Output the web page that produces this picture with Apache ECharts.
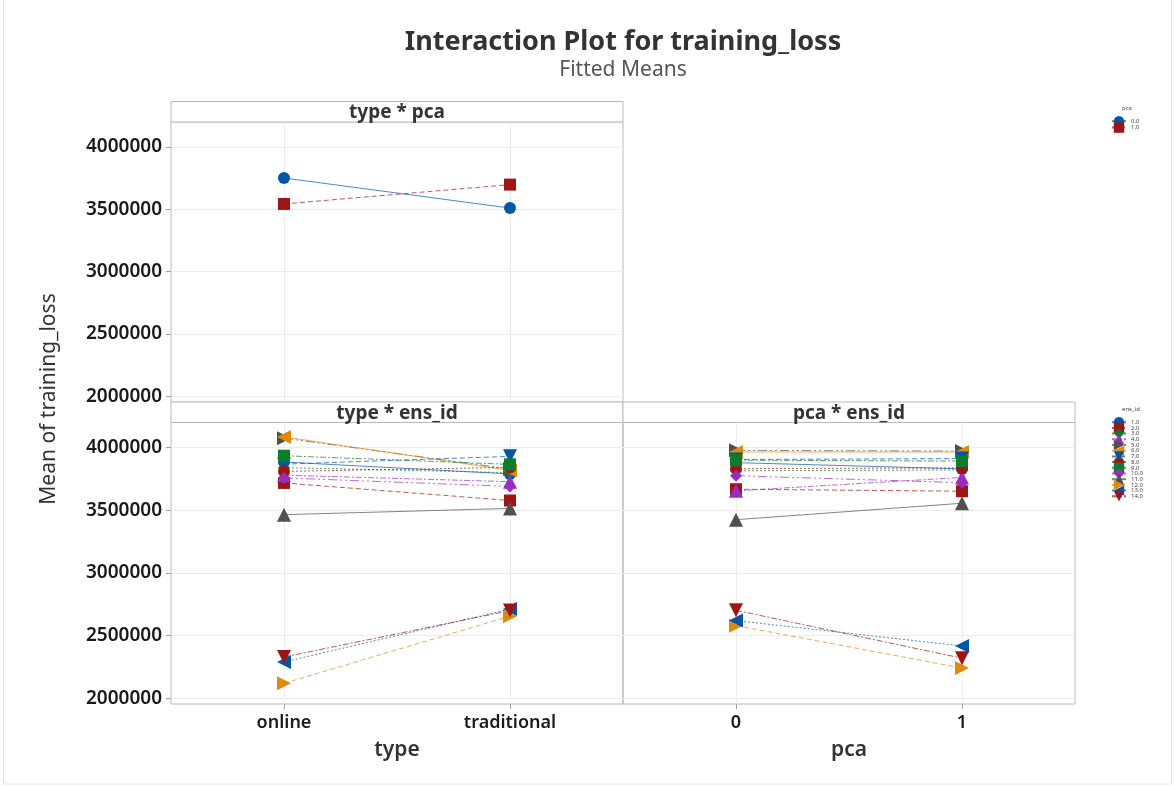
<!DOCTYPE html>
<html>
<head>
<meta charset="utf-8">
<title>Interaction Plot for training_loss</title>
<script src="https://cdn.jsdelivr.net/npm/echarts@6/dist/echarts.min.js"></script>
<style>
  html, body { margin: 0; padding: 0; background: #fff; }
  #chart { width: 1175px; height: 786px; }
</style>
</head>
<body>
<div id="chart"></div>
<script>
// factor levels
var typeLevels = ['online', 'traditional'];
var pcaLevels = ['0', '1'];
var pcaNames = ['0.0', '1.0'];
var ensNames = ['1.0', '2.0', '3.0', '4.0', '5.0', '6.0', '7.0',
                '8.0', '9.0', '10.0', '11.0', '12.0', '13.0', '14.0'];
var yTicks = [2000000, 2500000, 3000000, 3500000, 4000000];

// type * pca fitted means (one row per pca level, columns = type)
var typePcaZero = [3751000, 3510000];
var typePcaOne = [3543000, 3698000];

// type * ens_id fitted means
var typeEnsOnline = [3885000, 3718000, 3840000, 3780000, 4075000, 4085000, 3868000,
                     3810000, 3935000, 3758000, 3465000, 2120000, 2290000, 2330000];
var typeEnsTraditional = [3790000, 3578000, 3800000, 3728000, 3830000, 3818000, 3930000,
                          3842000, 3866000, 3690000, 3515000, 2655000, 2712000, 2700000];

// pca * ens_id fitted means
var pcaEnsZero = [3880000, 3668000, 3815000, 3655000, 3978000, 3965000, 3905000,
                  3832000, 3900000, 3776000, 3425000, 2580000, 2620000, 2702000];
var pcaEnsOne = [3830000, 3652000, 3822000, 3762000, 3972000, 3965000, 3912000,
                 3838000, 3892000, 3720000, 3556000, 2242000, 2418000, 2320000];

// minitab-like styling cycles
var palette = ['#0057a8', '#9c1616', '#0b7d2b', '#9b2dbe', '#505050', '#de8b0b'];
var symbols = ['circle', 'rect', 'diamond', 'triangle',
               'path://M0,0 L10,5 L0,10 Z',
               'path://M10,0 L0,5 L10,10 Z',
               'path://M0,0 L10,0 L5,10 Z'];
var dashes = ['solid', [5, 3], [2, 2], [6, 2, 2, 2], [9, 3, 2, 3, 2, 3]];

var FONT = 'Noto Sans';
var gridColor = '#ececec';
var borderColor = '#b9b9b9';

function styleFor(i) {
  var c = palette[i % palette.length];
  return {
    symbol: symbols[i % symbols.length],
    symbolSize: i % symbols.length >= 3 ? 14 : 12,
    itemStyle: { color: c, opacity: 1 },
    lineStyle: { color: c, width: 1, type: dashes[i % dashes.length], opacity: 0.7 },
    emphasis: { disabled: true }
  };
}

function vLines(levels) {
  return {
    silent: true, z: 1, symbol: 'none', animation: false,
    label: { show: false },
    lineStyle: { color: gridColor, type: 'solid', width: 1 },
    data: levels.map(function (c) { return { xAxis: c }; })
  };
}

function yAxisFor(idx, showLabels) {
  return {
    type: 'value', gridIndex: idx, min: 1955000, max: 4200000,
    axisLine: { show: false },
    axisTick: { show: showLabels, length: 5, customValues: yTicks, lineStyle: { color: '#a0a0a0' } },
    axisLabel: { show: showLabels, customValues: yTicks,
                 formatter: function (v) { return String(v); },
                 fontFamily: FONT, fontSize: 19, fontWeight: 600, color: '#1a1a1a', margin: 9 },
    splitLine: { show: true, lineStyle: { color: gridColor } }
  };
}

function xAxisFor(idx, levels, name, showLabels) {
  return {
    type: 'category', gridIndex: idx, data: levels, boundaryGap: true,
    axisLine: { show: false },
    axisTick: { show: showLabels, alignWithLabel: true, length: 5, lineStyle: { color: '#a0a0a0' } },
    axisLabel: { show: showLabels, fontFamily: FONT, fontSize: 18, fontWeight: 600, color: '#1a1a1a', margin: 10 },
    splitLine: { show: false },
    name: name, nameLocation: 'middle', nameGap: 36,
    nameTextStyle: { fontFamily: FONT, fontSize: 21, fontWeight: 600, color: '#333' }
  };
}

var series = [];
[typePcaZero, typePcaOne].forEach(function (vals, i) {
  var s = styleFor(i);
  s.name = 'pca ' + pcaNames[i];
  s.type = 'line';
  s.xAxisIndex = 0; s.yAxisIndex = 0;
  s.data = vals;
  if (i === 0) s.markLine = vLines(typeLevels);
  series.push(s);
});
ensNames.forEach(function (name, i) {
  var a = styleFor(i);
  a.name = name; a.type = 'line'; a.xAxisIndex = 1; a.yAxisIndex = 1;
  a.data = [typeEnsOnline[i], typeEnsTraditional[i]];
  if (i === 0) a.markLine = vLines(typeLevels);
  series.push(a);
  var b = styleFor(i);
  b.name = name; b.type = 'line'; b.xAxisIndex = 2; b.yAxisIndex = 2;
  b.data = [pcaEnsZero[i], pcaEnsOne[i]];
  if (i === 0) b.markLine = vLines(pcaLevels);
  series.push(b);
});

function header(x, y, w, h, text) {
  return [
    { type: 'rect', shape: { x: x, y: y, width: w, height: h },
      style: { fill: '#fff', stroke: borderColor, lineWidth: 1 } },
    { type: 'text', x: x + w / 2, y: y + h / 2 + 1,
      style: { text: text, font: 'bold 19px ' + FONT, fill: '#333', align: 'center', verticalAlign: 'middle' } }
  ];
}

var graphics = [
  { type: 'rect', shape: { x: 3.5, y: -2, width: 1168, height: 786 },
    style: { fill: 'none', stroke: '#e4e4e4', lineWidth: 1 }, silent: true },
  { type: 'text', x: 623, y: 42,
    style: { text: 'Interaction Plot for training_loss', font: 'bold 27px ' + FONT, fill: '#333',
             align: 'center', verticalAlign: 'middle' } },
  { type: 'text', x: 623, y: 70,
    style: { text: 'Fitted Means', font: '21px ' + FONT, fill: '#555', align: 'center', verticalAlign: 'middle' } },
  { type: 'text', x: 49, y: 399, rotation: Math.PI / 2,
    style: { text: 'Mean of training_loss', font: '21px ' + FONT, fill: '#333', align: 'center', verticalAlign: 'middle' } },
  { type: 'text', x: 1122, y: 108,
    style: { text: 'pca', font: '6px ' + FONT, fill: '#444', align: 'left', verticalAlign: 'middle' } },
  { type: 'text', x: 1122, y: 409,
    style: { text: 'ens_id', font: '6px ' + FONT, fill: '#444', align: 'left', verticalAlign: 'middle' } }
].concat(header(171, 101.5, 452, 20.5, 'type * pca'))
 .concat(header(171, 402, 452, 20.5, 'type * ens_id'))
 .concat(header(623, 402, 452, 20.5, 'pca * ens_id'));

var chart = echarts.init(document.getElementById('chart'));
chart.setOption({
  animation: false,
  backgroundColor: '#fff',
  grid: [
    { left: 171, top: 122, width: 452, height: 280, show: true, borderColor: borderColor, borderWidth: 1, backgroundColor: 'transparent' },
    { left: 171, top: 422.5, width: 452, height: 281.5, show: true, borderColor: borderColor, borderWidth: 1, backgroundColor: 'transparent' },
    { left: 623, top: 422.5, width: 452, height: 281.5, show: true, borderColor: borderColor, borderWidth: 1, backgroundColor: 'transparent' }
  ],
  xAxis: [
    xAxisFor(0, typeLevels, '', false),
    xAxisFor(1, typeLevels, 'type', true),
    xAxisFor(2, pcaLevels, 'pca', true)
  ],
  yAxis: [yAxisFor(0, true), yAxisFor(1, true), yAxisFor(2, false)],
  legend: [
    { data: pcaNames.map(function (n) { return 'pca ' + n; }),
      orient: 'vertical', left: 1106, top: 111, itemWidth: 14, itemHeight: 13, itemGap: -4,
      textStyle: { fontFamily: FONT, fontSize: 6, color: '#444' },
      formatter: function (n) { return n.replace('pca ', ''); } },
    { data: ensNames,
      orient: 'vertical', left: 1106, top: 412, itemWidth: 14, itemHeight: 13, itemGap: -4.7,
      textStyle: { fontFamily: FONT, fontSize: 6, color: '#444' } }
  ],
  graphic: graphics,
  series: series
});
</script>
</body>
</html>
